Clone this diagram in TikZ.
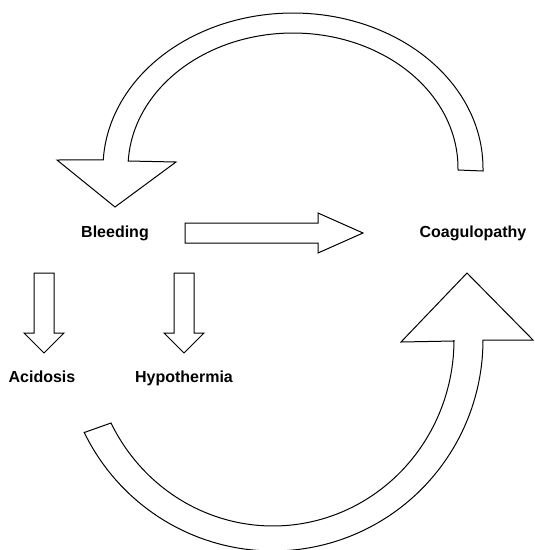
\documentclass[tikz,border=0pt]{standalone}
\usepackage{fontspec}
\setmainfont{Liberation Sans}
\begin{document}
\begin{tikzpicture}[x=1pt,y=-1pt,
  blockarrow/.style={draw=black,line width=1pt,fill=white,line join=miter},
  txt/.style={font=\bfseries\fontsize{16}{19}\selectfont,anchor=base,inner sep=0pt}]
\useasboundingbox (0,0) rectangle (535,550);

% text nodes
\node[txt] (bleeding) at (115,237) {Bleeding};
\node[txt] (coag) at (473,237) {Coagulopathy};
\node[txt] (acid) at (42,382) {Acidosis};
\node[txt] (hypo) at (184,382) {Hypothermia};

% top curved arrow (Coagulopathy -> Bleeding)
\draw[blockarrow] (483,171) -- (483,168)
  -- plot[domain=360:183,samples=90] ({293+190*cos(\x)},{168+155*sin(\x)})
  -- (57,160) -- (115,207) -- (176,162) -- (128.2,161)
  -- plot[domain=183:360,samples=90] ({293+165*cos(\x)},{168+135*sin(\x)})
  -- (458,170) -- cycle;

% bottom curved arrow (towards Coagulopathy)
\draw[blockarrow] (84.3,432.5)
  -- plot[domain=154:0,samples=90] ({273+210*cos(\x)},{340+211*sin(\x)})
  -- (533,340) -- (467,273) -- (401,342) -- (454,341)
  -- plot[domain=0:153.5,samples=90] ({273+181*cos(\x)},{340+186*sin(\x)})
  -- cycle;

% horizontal arrow Bleeding -> Coagulopathy
\draw[blockarrow] (185,223) -- (318,223) -- (318,213) -- (363,233)
  -- (318,253) -- (318,243) -- (185,243) -- cycle;

% down arrows
\draw[blockarrow] (34,273) -- (54,273) -- (54,333) -- (64,333) -- (44,353)
  -- (24,333) -- (34,333) -- cycle;
\draw[blockarrow] (174,273) -- (194,273) -- (194,333) -- (204,333) -- (184,353)
  -- (164,333) -- (174,333) -- cycle;
\end{tikzpicture}
\end{document}
